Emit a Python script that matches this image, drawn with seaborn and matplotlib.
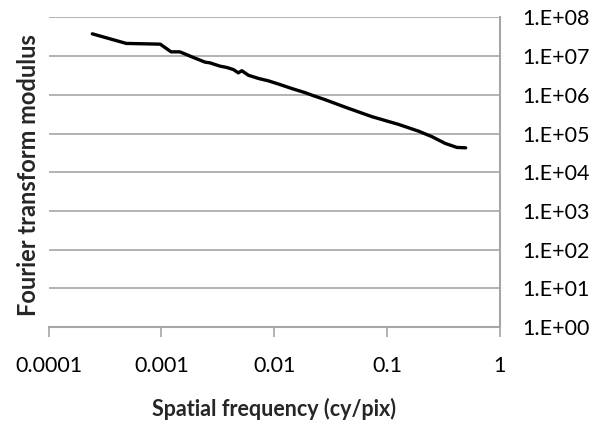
import numpy as np
import pandas as pd
import matplotlib
matplotlib.use("Agg")
import matplotlib.pyplot as plt
import matplotlib.ticker as mticker
import seaborn as sns

# spatial frequency (cy/pix) and FFT modulus
freq = [0.000244, 0.000488, 0.000977, 0.00122, 0.00146, 0.00186, 0.00244,
        0.00270, 0.00332, 0.00380, 0.00435, 0.00482, 0.00517, 0.00592,
        0.00726, 0.00890, 0.0113, 0.0144, 0.0188, 0.0223, 0.0283, 0.0427,
        0.0736, 0.127, 0.191, 0.251, 0.329, 0.418, 0.50]
modulus = [3.77e7, 2.13e7, 2.04e7, 1.29e7, 1.29e7, 9.6e6, 7.0e6,
           6.7e6, 5.5e6, 5.1e6, 4.5e6, 3.7e6, 4.2e6, 3.2e6,
           2.65e6, 2.3e6, 1.84e6, 1.45e6, 1.14e6, 9.5e5, 7.5e5, 4.8e5,
           2.73e5, 1.72e5, 1.15e5, 8.3e4, 5.55e4, 4.37e4, 4.27e4]

x_ticks = [0.0001, 0.001, 0.01, 0.1, 1]
x_ticklabels = ["0.0001", "0.001", "0.01", "0.1", "1"]
y_ticks = [1e0, 1e1, 1e2, 1e3, 1e4, 1e5, 1e6, 1e7, 1e8]

df = pd.DataFrame({"freq": freq, "modulus": modulus})

sns.set_style("white")
plt.rcParams["font.family"] = ["Lato", "DejaVu Sans"]
fs = 15.5

fig = plt.figure(figsize=(5.98, 4.36), dpi=100)
ax = fig.add_axes([0.0813, 0.25, 0.7542, 0.71])

sns.lineplot(data=df, x="freq", y="modulus", ax=ax, color="black",
             linewidth=2.4, estimator=None, sort=False)

ax.set_xscale("log")
ax.set_yscale("log")
ax.set_xlim(1e-4, 1)
ax.set_ylim(1, 1e8)

grid_col = "#a6a6a6"
ax.set_yticks(y_ticks)
ax.yaxis.set_major_formatter(mticker.FuncFormatter(lambda v, p: "1.E+%02d" % round(np.log10(v))))
ax.yaxis.set_minor_locator(mticker.NullLocator())
ax.yaxis.tick_right()
ax.tick_params(axis="y", length=0, pad=16, labelsize=fs, colors="black")
ax.grid(axis="y", color=grid_col, linewidth=1.2)

ax.set_xticks(x_ticks)
ax.set_xticklabels(x_ticklabels)
ax.xaxis.set_minor_locator(mticker.NullLocator())
ax.tick_params(axis="x", length=7, width=1.2, color=grid_col, pad=14,
               labelsize=fs, labelcolor="black", bottom=True)

for side in ["left", "top"]:
    ax.spines[side].set_visible(False)
for side in ["right", "bottom"]:
    ax.spines[side].set_color(grid_col)
    ax.spines[side].set_linewidth(1.5)
ax.spines["right"].set_bounds(1, 1e8)

ax.set_xlabel("Spatial frequency (cy/pix)", fontsize=fs, fontweight="bold", labelpad=16)
ax.set_ylabel("Fourier transform modulus", fontsize=17, fontweight="bold")
ax.yaxis.set_label_coords(-0.02, 0.49)

fig.savefig("out.png", dpi=100)
